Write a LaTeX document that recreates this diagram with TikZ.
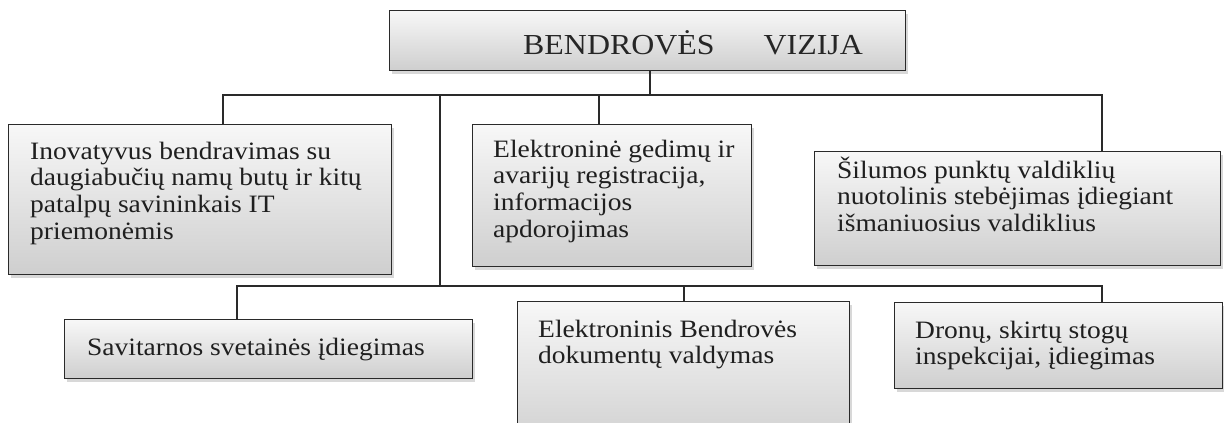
\documentclass[tikz,border=0pt]{standalone}
\usepackage{fontspec}
\setmainfont{Liberation Serif}[FakeStretch=1.1]
\usetikzlibrary{shadows}
\definecolor{edge}{HTML}{2A2A2A}
\newcommand\mlines[1]{\begin{tabular}[t]{@{}l@{}}#1\end{tabular}}
\tikzset{
  vbox/.style={rectangle, draw=edge, line width=1.4pt, anchor=north west,
    top color=gray!6, bottom color=gray!38, inner sep=0pt,
    drop shadow={shadow xshift=2pt, shadow yshift=-3pt, opacity=0.3, fill=gray}},
  vtxt/.style={anchor=base west, inner sep=0pt, text=black!88,
    font=\fontsize{25}{26.7}\selectfont},
  ttxt/.style={anchor=base west, inner sep=0pt, text=black!85,
    font=\fontsize{29}{32}\selectfont},
  conn/.style={draw=edge, line width=1.3pt}
}
\begin{document}
\begin{tikzpicture}[x=1pt,y=-1pt]
\useasboundingbox (0,0) rectangle (1224,423);
\clip (0,0) rectangle (1224,423);
\fill[white] (0,0) rectangle (1224,423);

% boxes
\node[vbox, minimum width=516, minimum height=60] (title) at (389,10) {};
\node[vbox, minimum width=383, minimum height=150] (b1) at (8,124) {};
\node[vbox, minimum width=279, minimum height=142] (b2) at (472,124) {};
\node[vbox, minimum width=406, minimum height=114] (b3) at (814,151) {};
\node[vbox, minimum width=408, minimum height=59] (b4) at (64,319) {};
\node[vbox, minimum width=332, minimum height=150] (b5) at (517,301) {};
\node[vbox, minimum width=328, minimum height=86] (b6) at (894,302) {};

% texts
\node[ttxt] (tt) at (523,54) {BENDROVĖS\hspace{49pt}VIZIJA};
\node[vtxt] (t1) at (30,159) {\mlines{Inovatyvus bendravimas su\\daugiabučių namų butų ir kitų\\patalpų savininkais IT\\priemonėmis}};
\node[vtxt] (t2) at (493,157) {\mlines{Elektroninė gedimų ir\\avarijų registracija,\\informacijos\\apdorojimas}};
\node[vtxt] (t3) at (837,178) {\mlines{Šilumos punktų valdiklių\\nuotolinis stebėjimas įdiegiant\\išmaniuosius valdiklius}};
\node[vtxt] (t4) at (87,355) {Savitarnos svetainės įdiegimas};
\node[vtxt] (t5) at (538,337) {\mlines{Elektroninis Bendrovės\\dokumentų valdymas}};
\node[vtxt] (t6) at (915,338) {\mlines{Dronų, skirtų stogų\\inspekcijai, įdiegimas}};

% junction coordinates
\coordinate (stem) at (650,95);
\coordinate (busTL) at (223,95);
\coordinate (busTR) at (1102,95);
\coordinate (j2) at (599,95);
\coordinate (trunkT) at (440,95);
\coordinate (trunkB) at (440,286);
\coordinate (busBL) at (237,286);
\coordinate (busBR) at (1102,286);
\coordinate (j5) at (684,286);

% connectors
\draw[conn] (title.south -| stem) -- (stem);
\draw[conn] (b1.north -| busTL) -- (busTL) -- (busTR) -- (b3.north -| busTR);
\draw[conn] (j2) -- (b2.north -| j2);
\draw[conn] (trunkT) -- (trunkB);
\draw[conn] (b4.north -| busBL) -- (busBL) -- (busBR) -- (b6.north -| busBR);
\draw[conn] (j5) -- (b5.north -| j5);
\end{tikzpicture}
\end{document}
